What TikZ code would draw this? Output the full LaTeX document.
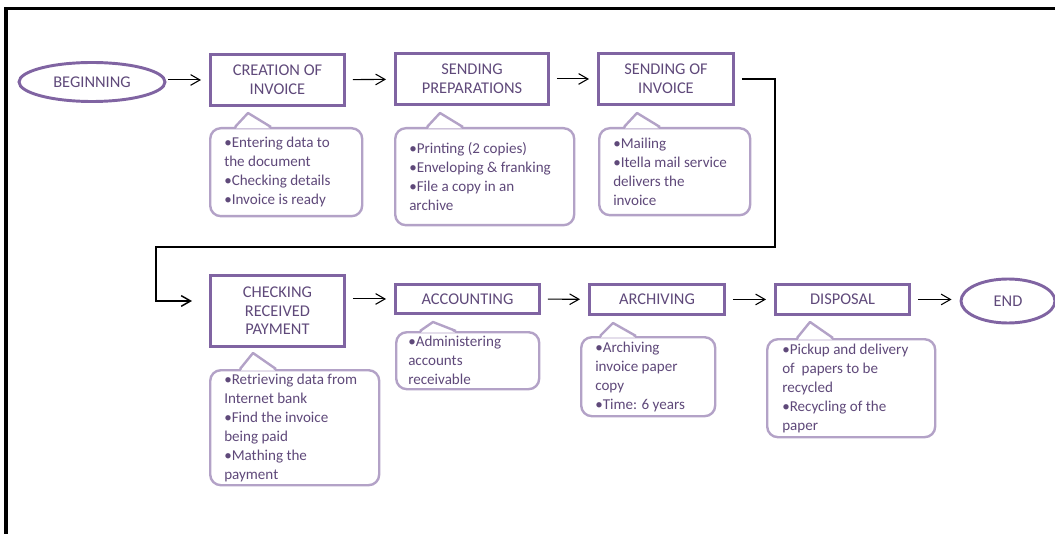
\documentclass[tikz,border=0pt]{standalone}
\usepackage{fontspec}
\setmainfont{Carlito}
\usepackage{xcolor}
\usetikzlibrary{arrows.meta}
\usetikzlibrary{shapes}
\usetikzlibrary{calc}

\definecolor{lila}{HTML}{8064A2}
\definecolor{hellila}{HTML}{B3A2C7}
\definecolor{textlila}{HTML}{5F497A}

\newlength{\pxl}
\setlength{\pxl}{0.75pt}

\tikzset{
    schritt/.style={draw=lila, line width=2.2pt, text=textlila, align=center, inner sep=0pt,
        anchor=north west, font=\fontsize{12.3}{14}\selectfont},
    grenze/.style={ellipse, draw=lila, line width=2.2pt, text=textlila, inner sep=0pt,
        font=\fontsize{12.3}{14}\selectfont},
    info/.style={draw=hellila, line width=1.8pt, rounded corners=8pt, fill=white,
        anchor=north west, inner sep=0pt},
    infotext/.style={anchor=west, align=left, text=textlila, inner sep=0pt,
        font=\fontsize{11.3}{14.25}\selectfont},
    pfeil/.style={->, line width=0.8pt, shorten <=5.25pt, shorten >=6pt},
    verbinder/.style={->, line width=1.1pt, shorten <=5.25pt, shorten >=12.75pt},
    >={Straight Barb[length=7pt,width=8pt]}
}

\begin{document}
\begin{tikzpicture}[x=0.75pt, y=-0.75pt]
        \useasboundingbox (0,0) rectangle (1055,534);
        % Rahmen
        \draw[line width=2.3pt] (6,600) -- (6,8.5) -- (1100,8.5);
        % Anfang und Ende
        \node[grenze, minimum width=146\pxl, minimum height=39\pxl] (anfang) at (92,82) {BEGINNING};
        \node[grenze, minimum width=94\pxl, minimum height=44\pxl] (ende) at (1008,301) {END};
        % Schritte
        \node[schritt, minimum width=134\pxl, minimum height=51\pxl] (erstellung) at (209,53) {CREATION OF\\INVOICE};
        \node[schritt, minimum width=153\pxl, minimum height=51\pxl] (vorbereitung) at (394,52) {SENDING\\PREPARATIONS};
        \node[schritt, minimum width=135\pxl, minimum height=51\pxl] (versand) at (597,52) {SENDING OF\\INVOICE};
        \node[schritt, minimum width=134\pxl, minimum height=71\pxl] (pruefung) at (209,274) {CHECKING\\RECEIVED\\PAYMENT};
        \node[schritt, minimum width=144\pxl, minimum height=29\pxl] (buchhaltung) at (394,283) {ACCOUNTING};
        \node[schritt, minimum width=135\pxl, minimum height=30\pxl] (archiv) at (588,283) {ARCHIVING};
        \node[schritt, minimum width=134\pxl, minimum height=30\pxl] (entsorgung) at (774,283) {DISPOSAL};
        % Sprechblasen
        \node[info, minimum width=152\pxl, minimum height=88\pxl] (inf1) at (209,127) {};
        \node[info, minimum width=179\pxl, minimum height=97\pxl] (inf2) at (394,127) {};
        \node[info, minimum width=151\pxl, minimum height=87\pxl] (inf3) at (598,127) {};
        \node[info, minimum width=169\pxl, minimum height=115\pxl] (inf4) at (209,369) {};
        \node[info, minimum width=143\pxl, minimum height=57\pxl] (inf5) at (395,331) {};
        \node[info, minimum width=134\pxl, minimum height=79\pxl] (inf6) at (580,336) {};
        \node[info, minimum width=168\pxl, minimum height=98\pxl] (inf7) at (766,338) {};
        \foreach \n/\dx/\h in {inf1/39/14, inf2/46/14, inf3/39/14, inf4/44/16, inf5/38/9, inf6/33/13, inf7/44/16}
        {
            \fill[white] ($(\n.north west)+(\dx-12,1.5)$) -- ($(\n.north west)+(\dx,-\h)$) -- ($(\n.north west)+(\dx+22,1.5)$) -- cycle;
            \draw[hellila, line width=1.8pt, line join=round] ($(\n.north west)+(\dx-13,0)$) -- ($(\n.north west)+(\dx,-\h)$) -- ($(\n.north west)+(\dx+23,0)$);
        }
        \node[infotext] (txt1) at ($(inf1.west)+(15,0)$) {•Entering data to\\the document\\•Checking details\\•Invoice is ready};
        \node[infotext] (txt2) at ($(inf2.west)+(15,0)$) {•Printing (2 copies)\\•Enveloping \& franking\\•File a copy in an\\archive};
        \node[infotext] (txt3) at ($(inf3.west)+(15,0)$) {•Mailing\\•Itella mail service\\delivers the\\invoice};
        \node[infotext] (txt4) at ($(inf4.west)+(15,0)$) {•Retrieving data from\\Internet bank\\•Find the invoice\\being paid\\•Mathing the\\payment};
        \node[infotext] (txt5) at ($(inf5.west)+(13,0)$) {•Administering\\accounts\\receivable};
        \node[infotext] (txt6) at ($(inf6.west)+(15,0)$) {•Archiving\\invoice paper\\copy\\•Time: 6 years};
        \node[infotext] (txt7) at ($(inf7.west)+(16,0)$) {•Pickup and delivery\\of~ papers to be\\recycled\\•Recycling of the\\paper};
        % Pfeile
        \draw[pfeil, shorten <=1.5pt] (anfang.east |- erstellung.west) -- (erstellung.west);
        \draw[pfeil] (erstellung) -- (vorbereitung);
        \draw[pfeil] (vorbereitung.east) -- (vorbereitung.east -| versand.west);
        \draw[pfeil] (pruefung.east |- buchhaltung.west) -- (buchhaltung.west);
        \draw[pfeil] (buchhaltung) -- (archiv);
        \draw[pfeil] (archiv) -- (entsorgung);
        \draw[pfeil] (entsorgung.east) -- (entsorgung.east -| ende.west);
        % Verbindung zur zweiten Zeile
        \coordinate (rechts) at (775,247);
        \coordinate (links) at (156,247);
        \draw[verbinder] (versand.east) -| (rechts) -- (links) |- ([yshift=7.5pt]pruefung.west);
\end{tikzpicture}
\end{document}
